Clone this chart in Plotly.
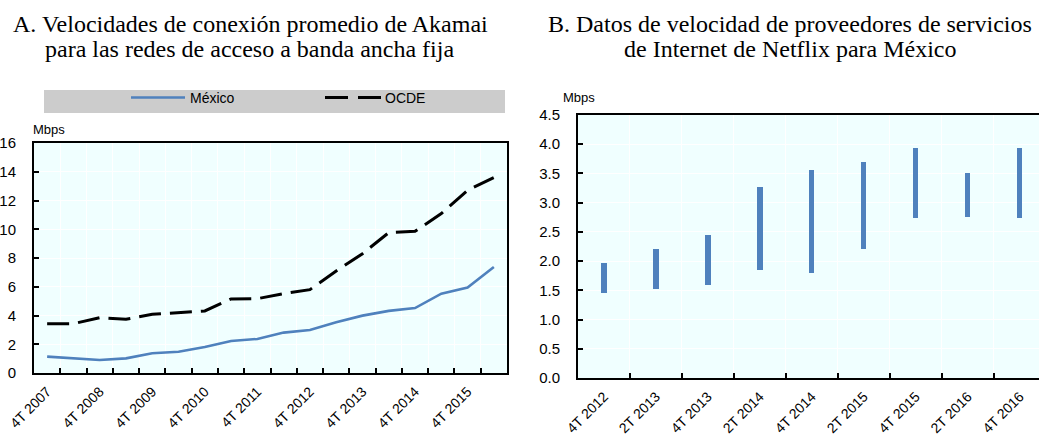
import plotly.graph_objects as go

W, H = 1039, 437

# ---- Panel A data ----
cats_a = ["4T 2007", "2T 2008", "4T 2008", "2T 2009", "4T 2009", "2T 2010",
          "4T 2010", "2T 2011", "4T 2011", "2T 2012", "4T 2012", "2T 2013",
          "4T 2013", "2T 2014", "4T 2014", "2T 2015", "4T 2015", "2T 2016"]
mexico = [1.14, 1.02, 0.90, 1.02, 1.37, 1.48, 1.81, 2.23, 2.37, 2.81, 2.99, 3.53,
          3.99, 4.32, 4.52, 5.52, 5.94, 7.38]
ocde = [3.43, 3.43, 3.85, 3.74, 4.08, 4.18, 4.32, 5.15, 5.17, 5.52, 5.80, 7.10,
        8.30, 9.77, 9.86, 11.09, 12.71, 13.60]
ticks_a = [c if i % 2 == 0 else "" for i, c in enumerate(cats_a)]

# ---- Panel B data ----
cats_b = ["4T 2012", "2T 2013", "4T 2013", "2T 2014", "4T 2014", "2T 2015",
          "4T 2015", "2T 2016", "4T 2016"]
netflix_low = [1.46, 1.53, 1.59, 1.85, 1.80, 2.20, 2.73, 2.76, 2.73]
netflix_high = [1.97, 2.21, 2.45, 3.27, 3.56, 3.69, 3.93, 3.50, 3.93]

BLUE = "#4F81BD"
BG = "#F0FFFF"
SANS = "Liberation Sans, Arial, sans-serif"
SERIF = "Liberation Serif, Times New Roman, serif"


def px(x):
    return x / W


def py(y):
    return 1 - y / H


fig = go.Figure()
fig.add_trace(go.Scatter(x=cats_a, y=mexico, mode="lines", name="México",
                         line=dict(color=BLUE, width=2.6),
                         xaxis="x", yaxis="y", showlegend=False))
fig.add_trace(go.Scatter(x=cats_a, y=ocde, mode="lines", name="OCDE",
                         line=dict(color="black", width=3, dash="22px,9px"),
                         xaxis="x", yaxis="y", showlegend=False))
fig.add_trace(go.Bar(x=cats_b, y=[h - l for h, l in zip(netflix_high, netflix_low)],
                     base=netflix_low, width=0.1, marker=dict(color=BLUE, line=dict(width=0)),
                     xaxis="x2", yaxis="y2", showlegend=False, name="Netflix"))

axis_common = dict(showline=True, linecolor="black", linewidth=2, mirror=True,
                   ticks="inside", ticklen=5, tickwidth=1.5, tickcolor="black",
                   showgrid=True, gridcolor="white", gridwidth=1, zeroline=False,
                   automargin=False,
                   tickfont=dict(family=SANS, size=15, color="black"))

xfont = dict(family=SANS, size=14, color="black")

fig.update_layout(
    width=W, height=H,
    margin=dict(l=0, r=0, t=0, b=0, autoexpand=False),
    paper_bgcolor="white",
    plot_bgcolor=BG,
    showlegend=False,
    bargap=0,
    xaxis=dict(axis_common, domain=[px(34), px(507)], anchor="y", type="category",
               range=[-0.5, 17.5], tickmode="array", tickvals=cats_a, ticktext=ticks_a,
               tickson="boundaries", tickangle=-45, ticklabelstandoff=3, tickfont=xfont),
    yaxis=dict(axis_common, domain=[py(373), py(143)], anchor="x",
               range=[0, 16], dtick=2, ticklabelstandoff=13),
    xaxis2=dict(axis_common, domain=[px(578), 1.0], anchor="y2", type="category",
                range=[-0.5, 8.37], tickson="boundaries", tickangle=-45,
                ticklabelstandoff=3, tickfont=xfont),
    yaxis2=dict(axis_common, domain=[py(378), py(115)], anchor="x2", mirror=False,
                range=[0, 4.5], dtick=0.5, tickformat=".1f", ticklabelstandoff=13),
)

annotations = [
    dict(text="A. Velocidades de conexión promedio de Akamai", x=px(250), y=py(24)),
    dict(text="para las redes de acceso a banda ancha fija", x=px(249), y=py(49)),
    dict(text="B. Datos de velocidad de proveedores de servicios", x=px(790), y=py(24)),
    dict(text="de Internet de Netflix para México", x=px(790), y=py(49)),
]
for a in annotations:
    fig.add_annotation(xref="paper", yref="paper", xanchor="center", yanchor="middle",
                       showarrow=False, font=dict(family=SERIF, size=24, color="black"), **a)

for txt, x, y in [("Mbps", 31, 130), ("Mbps", 561, 97)]:
    fig.add_annotation(xref="paper", yref="paper", xanchor="left", yanchor="middle",
                       x=px(x), y=py(y), text=txt, showarrow=False,
                       font=dict(family=SANS, size=13, color="black"))

# manual legend for panel A
fig.add_shape(type="rect", xref="paper", yref="paper", x0=px(44), x1=px(505),
              y0=py(113), y1=py(90), fillcolor="#CCCCCC", line=dict(width=0), layer="below")
fig.add_shape(type="line", xref="paper", yref="paper", x0=px(131), x1=px(185),
              y0=py(97.5), y1=py(97.5), line=dict(color=BLUE, width=2.6))
fig.add_shape(type="line", xref="paper", yref="paper", x0=px(325), x1=px(383),
              y0=py(97.5), y1=py(97.5), line=dict(color="black", width=3, dash="23px,10px"))
fig.add_annotation(xref="paper", yref="paper", xanchor="left", yanchor="middle",
                   x=px(188), y=py(97.5), text="México", showarrow=False,
                   font=dict(family=SANS, size=14, color="black"))
fig.add_annotation(xref="paper", yref="paper", xanchor="left", yanchor="middle",
                   x=px(383), y=py(97.5), text="OCDE", showarrow=False,
                   font=dict(family=SANS, size=14, color="black"))

fig.write_html("out.html", config={"displayModeBar": False},
               post_script="document.body.style.margin='0';document.body.style.overflow='hidden';")
